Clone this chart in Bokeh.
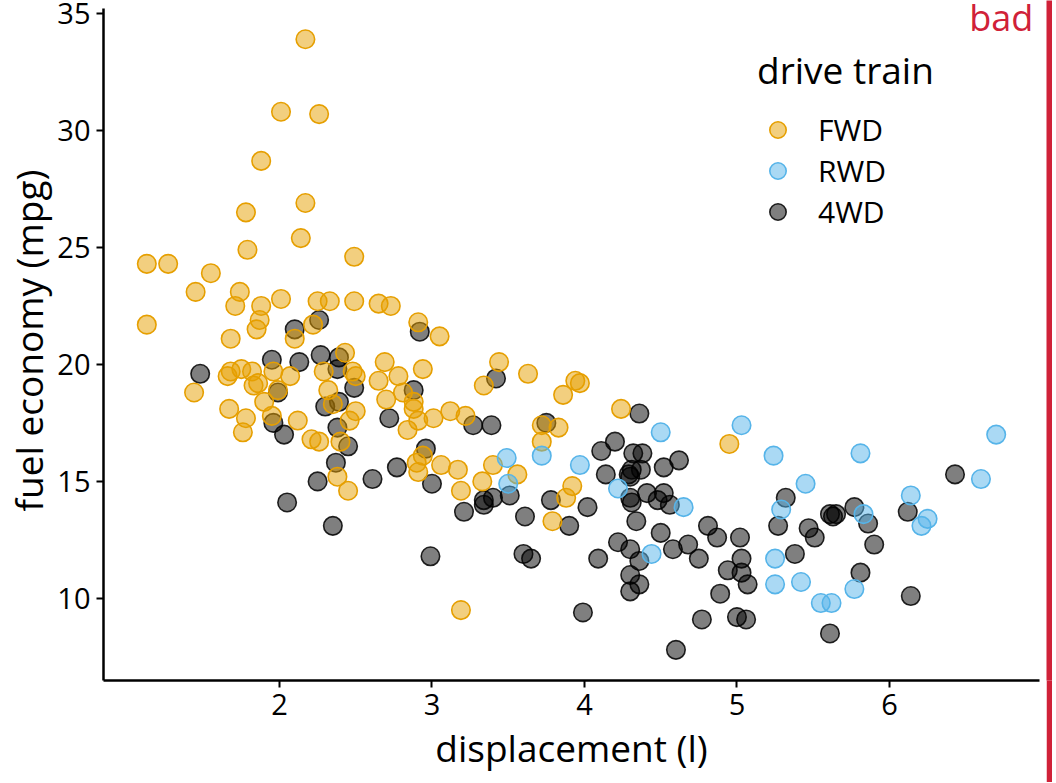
from bokeh.plotting import figure
from bokeh.models import Range1d, FixedTicker, Legend, LegendItem, Label
from bokeh.layouts import row
from bokeh.embed import file_html
from bokeh.resources import INLINE

FONT = "Open Sans"
BAD = "#D02138"

# ---- data (jittered displacement vs city fuel economy) ----
fwd_displ = [2.17, 2.01, 2.26, 1.88, 2.17, 1.78, 2.14, 1.79, 2.49, 1.13,
             1.27, 1.55, 1.45, 1.74, 1.71, 1.88, 2.01, 2.25, 2.33, 2.49,
             2.65, 2.73, 1.87, 1.85, 1.13, 2.22, 2.10, 1.68, 2.91, 3.05,
             2.43, 2.29, 1.66, 1.68, 1.75, 1.82, 1.83, 1.86, 1.96, 2.07,
             1.44, 1.99, 2.32, 2.35, 1.67, 1.90, 1.78, 1.95, 2.12, 1.76,
             2.21, 2.26, 2.40, 2.48, 2.50, 2.69, 2.65, 2.78, 2.94, 2.81,
             2.88, 2.88, 2.70, 2.50, 2.46, 2.84, 2.91, 3.01, 3.12, 3.22,
             3.44, 3.34, 3.63, 3.86, 3.94, 3.97, 3.72, 3.83, 3.72, 2.38,
             2.45, 2.90, 2.94, 2.91, 3.06, 3.17, 3.19, 3.40, 3.33, 3.56,
             3.92, 3.88, 3.79, 3.19, 4.24, 4.95]
fwd_mpg = [33.9, 30.8, 30.7, 28.7, 26.9, 26.5, 25.4, 24.9, 24.6, 24.3,
           24.3, 23.9, 23.1, 23.1, 22.5, 22.5, 22.8, 22.7, 22.7, 22.7,
           22.6, 22.5, 21.9, 21.5, 21.7, 21.7, 21.1, 21.1, 21.8, 21.2,
           20.5, 19.7, 19.5, 19.7, 19.8, 19.7, 19.1, 19.2, 19.7, 19.5,
           18.8, 18.9, 18.9, 18.3, 18.1, 18.4, 17.7, 17.8, 17.6, 17.1,
           16.8, 16.7, 16.7, 19.7, 19.5, 20.1, 19.3, 19.5, 19.8, 18.8,
           18.4, 18.1, 18.5, 18.0, 17.6, 17.2, 17.6, 17.7, 18.0, 17.8,
           20.1, 19.1, 19.6, 18.7, 19.3, 19.2, 17.4, 17.3, 16.7, 15.2,
           14.6, 15.8, 16.1, 15.4, 15.7, 15.5, 14.6, 15.7, 15.0, 15.3,
           14.8, 14.3, 13.3, 9.5, 18.1, 16.6]

rwd_displ = [3.49, 3.50, 3.72, 3.97, 4.22, 4.50, 5.03, 5.24, 5.45, 5.29,
             4.44, 4.65, 5.25, 5.25, 5.42, 5.55, 5.62, 5.77, 5.81, 5.83,
             6.14, 6.25, 6.21, 6.60, 6.70]
rwd_mpg = [16.0, 14.9, 16.1, 15.7, 14.7, 17.1, 17.4, 16.1, 14.9, 13.8,
           11.9, 13.9, 11.7, 10.6, 10.7, 9.8, 9.8, 10.4, 16.2, 13.6,
           14.4, 13.4, 13.1, 15.1, 17.0]

awd_displ = [2.26, 2.10, 1.95, 2.13, 2.27, 2.39, 2.38, 1.48, 1.99, 2.39,
             2.30, 1.96, 2.03, 2.38, 2.45, 2.37, 2.25, 2.05, 2.35, 2.92,
             2.49, 2.88, 2.72, 3.27, 3.39, 3.42, 3.75, 2.96, 2.61, 2.77,
             3.00, 3.21, 3.51, 3.34, 3.34, 3.40, 3.61, 3.78, 3.90, 4.02,
             2.99, 3.60, 3.65, 4.09, 3.99, 4.36, 4.20, 4.11, 4.32, 4.38,
             4.14, 4.29, 4.31, 4.37, 4.30, 4.52, 4.62, 4.30, 4.31, 4.41,
             4.48, 4.52, 4.56, 4.34, 4.50, 4.81, 4.87, 5.02, 4.22, 4.30,
             4.36, 4.58, 4.68, 4.75, 4.30, 4.36, 4.30, 5.03, 4.94, 5.03,
             5.07, 4.89, 4.77, 5.00, 5.06, 4.60, 5.32, 5.27, 5.47, 5.51,
             5.38, 6.43, 6.12, 5.61, 5.65, 5.63, 5.77, 5.86, 5.90, 5.81,
             6.14, 5.61]
awd_mpg = [21.9, 21.5, 20.2, 20.1, 20.4, 20.3, 19.8, 19.6, 18.8, 18.4,
           18.2, 17.5, 17.0, 17.3, 16.5, 15.8, 15.0, 14.1, 13.1, 21.4,
           19.0, 18.9, 17.7, 17.4, 17.4, 19.4, 17.5, 16.4, 15.1, 15.6,
           14.9, 13.7, 14.4, 14.2, 14.0, 14.3, 13.5, 14.2, 13.1, 13.9,
           11.8, 11.9, 11.7, 11.7, 9.4, 17.9, 16.7, 16.3, 16.2, 16.2,
           15.3, 15.3, 15.5, 15.5, 15.2, 15.6, 15.9, 14.3, 14.1, 14.5,
           14.2, 14.5, 14.0, 13.3, 12.8, 13.1, 12.6, 12.6, 12.4, 12.1,
           11.6, 12.1, 12.3, 11.7, 11.0, 10.6, 10.3, 11.7, 11.2, 11.1,
           10.6, 10.2, 9.1, 9.2, 9.1, 7.8, 14.3, 13.1, 13.0, 12.6,
           11.9, 15.3, 13.7, 13.6, 13.6, 13.5, 13.9, 13.2, 12.3, 11.1,
           10.1, 8.5]

drive_labels = ["FWD", "RWD", "4WD"]
drive_colors = ["#E69F00", "#56B4E9", "#000000"]
x_ticks = [2, 3, 4, 5, 6]
y_ticks = [10, 15, 20, 25, 30, 35]

p = figure(width=1046, height=782,
           x_range=Range1d(0.846, 6.984), y_range=Range1d(6.49, 35.556),
           output_backend="svg", toolbar_location=None,
           min_border_left=103, min_border_right=7,
           min_border_top=0, min_border_bottom=102)
p.grid.visible = False
p.outline_line_color = None
p.background_fill_color = "white"
p.border_fill_color = "white"

def pts(xs, ys, color, lalpha):
    return p.scatter(xs, ys, size=18.5, marker="circle",
                     fill_color=color, fill_alpha=0.5,
                     line_color=color, line_alpha=lalpha, line_width=1.6)

r_awd = pts(awd_displ, awd_mpg, drive_colors[2], 0.85)
r_fwd = pts(fwd_displ, fwd_mpg, drive_colors[0], 1.0)
r_rwd = pts(rwd_displ, rwd_mpg, drive_colors[1], 1.0)

p.xaxis.ticker = FixedTicker(ticks=x_ticks)
p.yaxis.ticker = FixedTicker(ticks=y_ticks)
for ax in (p.xaxis[0], p.yaxis[0]):
    ax.axis_line_width = 2.5
    ax.axis_line_color = "black"
    ax.major_tick_line_width = 2
    ax.major_tick_line_color = "black"
    ax.major_tick_out = 7
    ax.major_tick_in = 0
    ax.minor_tick_line_color = None
    ax.major_label_text_font = FONT
    ax.major_label_text_font_size = "29px"
    ax.major_label_text_color = "black"
    ax.axis_label_text_font = FONT
    ax.axis_label_text_font_size = "37px"
    ax.axis_label_text_font_style = "normal"
    ax.axis_label_text_color = "black"
    ax.axis_label_text_line_height = 1.0

p.yaxis.axis_label_text_line_height = 0.9
p.yaxis.bounds = (6.49, 35.21)
p.xaxis.axis_label = "displacement (l)"
p.yaxis.axis_label = "fuel economy (mpg)"
p.xaxis.major_label_standoff = 6
p.xaxis.axis_label_standoff = 4
p.yaxis.major_label_standoff = 6
p.yaxis.axis_label_standoff = 0

legend = Legend(
    items=[LegendItem(label=drive_labels[0], renderers=[r_fwd]),
           LegendItem(label=drive_labels[1], renderers=[r_rwd]),
           LegendItem(label=drive_labels[2], renderers=[r_awd])],
    title="drive train", location=(654, 448),
    title_text_font=FONT, title_text_font_size="37px",
    title_text_font_style="normal", title_text_color="black",
    label_text_font=FONT, label_text_font_size="30px", label_text_color="black",
    glyph_width=41, glyph_height=41, label_height=41, spacing=0,
    padding=0, margin=0, label_standoff=20, title_standoff=14,
    border_line_color=None, background_fill_alpha=0)
p.add_layout(legend)

p.add_layout(Label(x=6.944, y=34.83, text="bad", text_align="right",
                   text_baseline="alphabetic", text_font=FONT,
                   text_font_size="36px", text_color=BAD))

bar = figure(width=6, height=782, x_range=Range1d(0, 1), y_range=Range1d(0, 1),
             output_backend="svg", toolbar_location=None, min_border=0,
             min_border_left=0, min_border_right=0, min_border_top=0,
             min_border_bottom=0,
             background_fill_color=BAD, border_fill_color=BAD,
             outline_line_color=None)
bar.axis.visible = False
bar.grid.visible = False

layout = row(p, bar)
open("out.html", "w").write(file_html(layout, INLINE))
